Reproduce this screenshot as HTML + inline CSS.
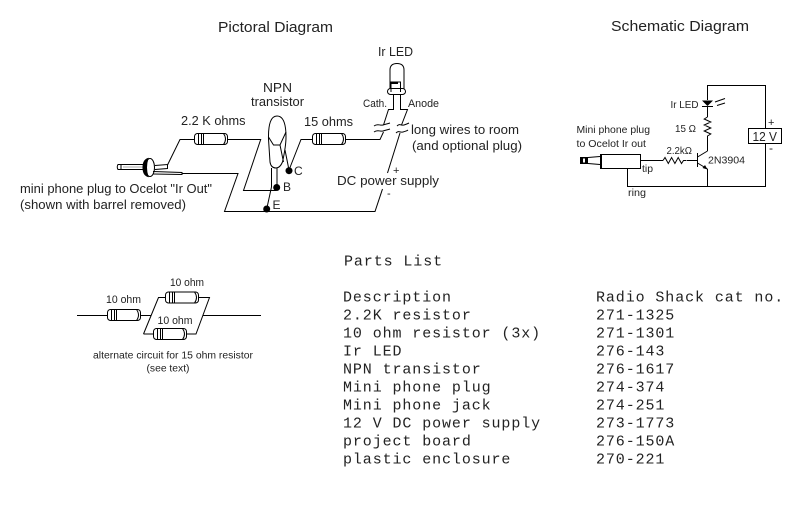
<!DOCTYPE html>
<html><head><meta charset="utf-8"><style>
html,body{margin:0;padding:0;background:#fff;width:800px;height:520px;overflow:hidden}
svg{display:block}
.s{font-family:"Liberation Sans",sans-serif;fill:#222}
.m{font-family:"Liberation Mono",monospace;font-size:15px;letter-spacing:.9px;fill:#222}
.w{fill:none;stroke:#000;stroke-width:1}
.b{fill:#000;stroke:none}
</style></head><body>
<svg width="800" height="520" viewBox="0 0 800 520" xmlns="http://www.w3.org/2000/svg">
<defs>
<g id="r">
<rect x="0.500" y="0.500" width="33" height="11" rx="3" fill="#fff" stroke="#000"/>
<path class="w" d="M29.500 .5q4 5.500 0 11M4.500 .5v11M7.500 .5v11M9.500 .5v11"/>
</g>
</defs>
<text class="s" x="218" y="32" font-size="14.500" textLength="115" lengthAdjust="spacingAndGlyphs">Pictoral Diagram</text>
<text class="s" x="611" y="31" font-size="14.500" textLength="138" lengthAdjust="spacingAndGlyphs">Schematic Diagram</text>

<!-- plug -->
<path class="w" d="M121 164.500h-3q-1.500 2.500 0 5h3M121 164.500V169.500M121 164.500H144M121 169.500H144"/>
<line x1="123" y1="167" x2="144" y2="167" stroke="#aaa"/>
<ellipse cx="150" cy="167.500" rx="4.500" ry="9" fill="#fff" stroke="#000"/>
<path d="M148 158.500Q143 160 143 167.500Q143 175 148 176.500Q145 167.500 148 158.500Z" fill="#000" stroke="#000"/>
<path class="w" d="M155 165.500L167.500 164.500V168.500L155 169.500M153 171.500L182 172.500V174.500L153 174"/>
<!-- wires -->
<path class="w" d="M167.500 165L180 139.500H194M228 139.500H260.700L243.500 190.500H276"/>
<path class="w" d="M182 173.500H238L224.500 211.500H375L382.500 189M387.500 173L400 133"/>
<use href="#r" x="194" y="133"/>
<!-- transistor -->
<path class="w" d="M268.500 139Q268 116 277 116Q286 116 286 137Q286 146 282.500 162Q280 168 276 168Q271 168 270 162Z"/>
<path class="w" d="M268.500 137L273.500 145H280L286 132M280 145L283.500 162M285 150L289 170M271.500 168V187L266.700 209M277 168V187"/>
<circle class="b" cx="276.700" cy="187.500" r="3.500"/>
<circle class="b" cx="289" cy="170.700" r="3.500"/>
<circle class="b" cx="266.700" cy="209" r="3.500"/>
<path class="w" d="M289 170L301 139.500H313M345 139.500H380L383.500 132"/>
<use href="#r" x="312" y="133"/>
<text class="s" x="263" y="92" font-size="13" textLength="29" lengthAdjust="spacingAndGlyphs">NPN</text>
<text class="s" x="251" y="106" font-size="12.500" textLength="53" lengthAdjust="spacingAndGlyphs">transistor</text>
<text class="s" x="181" y="125" font-size="12.500" textLength="64.500" lengthAdjust="spacingAndGlyphs">2.2 K ohms</text>
<text class="s" x="304" y="126" font-size="12.500" textLength="49" lengthAdjust="spacingAndGlyphs">15 ohms</text>
<text class="s" x="294" y="175" font-size="12">C</text>
<text class="s" x="283" y="191" font-size="12">B</text>
<text class="s" x="272.500" y="209" font-size="12">E</text>
<text class="s" x="20" y="193" font-size="12.500" textLength="192" lengthAdjust="spacingAndGlyphs">mini phone plug to Ocelot "Ir Out"</text>
<text class="s" x="20" y="209" font-size="12.500" textLength="166" lengthAdjust="spacingAndGlyphs">(shown with barrel removed)</text>
<!-- LED -->
<path class="w" d="M390 89V70Q390 63.500 397 63.500Q404 63.500 404 70V89"/>
<rect x="387.500" y="88.500" width="18" height="6" rx="3" fill="#fff" stroke="#000"/>
<path class="w" d="M391 92V82H400.500V92"/>
<path d="M391 82h7v2h-7z" fill="#000"/>
<path class="w" d="M393.500 95V109.500H388.500L383.500 125M400.500 95V109.500H407.500L401.500 125"/>
<path class="w" d="M374 126c4-3 6 0 9-1s4-1 7-2M374 132c4-3 6 0 9-1s4-1 7-2M397 126c3-3 4 0 7-1s3-1 5-2M396 133c3-3 4 0 7-1s4-1 5-2"/>
<text class="s" x="378" y="56" font-size="12.500" textLength="35" lengthAdjust="spacingAndGlyphs">Ir LED</text>
<text class="s" x="363" y="107" font-size="11" textLength="24" lengthAdjust="spacingAndGlyphs">Cath.</text>
<text class="s" x="408" y="107" font-size="11" textLength="31" lengthAdjust="spacingAndGlyphs">Anode</text>
<text class="s" x="411" y="134" font-size="12.500" textLength="108" lengthAdjust="spacingAndGlyphs">long wires to room</text>
<text class="s" x="412" y="150" font-size="12.500" textLength="110" lengthAdjust="spacingAndGlyphs">(and optional plug)</text>
<text class="s" x="337" y="185" font-size="12.500" textLength="102" lengthAdjust="spacingAndGlyphs">DC power supply</text>
<text class="s" x="393" y="174" font-size="11">+</text>
<text class="s" x="387" y="197" font-size="11">-</text>

<!-- schematic -->
<path class="w" d="M707.500 100V85.500H765.500V128.500M765.500 143.500V186.500H627.500V168M640 160.500H663M687 160.500H697.500M707.500 151V139M707.500 117V106M707.500 169V186.500M697.500 153V167M697.500 157L707.500 151M697.500 163L707.500 169"/>
<path class="w" d="M663 160.500l2-3 3.300 6 3.300-6 3.300 6 3.300-6 3.300 6 2-3h3M707.500 117l-3.300 2 6.600 3-6.600 3 6.600 3-6.600 3 6.600 3-3.300 2v3"/>
<path class="b" d="M702 100.500h11l-5.500 5.500zM707.500 169.500l-5-1.500 2.500-3z"/>
<path class="w" d="M702 106.500h11M715 102l10-3.500M717 105.500l8-2.500"/>
<rect x="748.500" y="128.500" width="33" height="15" fill="#fff" stroke="#000"/>
<rect x="601" y="154.500" width="39.500" height="14" fill="#fff" stroke="#000"/>
<rect x="600" y="154" width="2" height="15" fill="#000"/>
<path class="w" d="M600 156.500L588 157.500M600 164.500L588 163.500"/>
<rect x="580" y="157" width="8" height="7" fill="#000"/>
<rect x="583" y="158.500" width="2" height="4" fill="#fff"/>
<text class="s" x="670.500" y="108" font-size="10.500" textLength="28" lengthAdjust="spacingAndGlyphs">Ir LED</text>
<text class="s" x="675" y="132" font-size="10.500" textLength="21" lengthAdjust="spacingAndGlyphs">15 Ω</text>
<text class="s" x="666.500" y="154" font-size="10.500" textLength="25.500" lengthAdjust="spacingAndGlyphs">2.2kΩ</text>
<text class="s" x="708" y="163.500" font-size="10.500" textLength="37" lengthAdjust="spacingAndGlyphs">2N3904</text>
<text class="s" x="576.500" y="133" font-size="10.500" textLength="73.500" lengthAdjust="spacingAndGlyphs">Mini phone plug</text>
<text class="s" x="576.500" y="147" font-size="10.500" textLength="69.500" lengthAdjust="spacingAndGlyphs">to Ocelot Ir out</text>
<text class="s" x="642" y="172" font-size="10.500" textLength="11" lengthAdjust="spacingAndGlyphs">tip</text>
<text class="s" x="628" y="196" font-size="10.500" textLength="18" lengthAdjust="spacingAndGlyphs">ring</text>
<text class="s" x="752.500" y="141" font-size="12.500" textLength="24.500" lengthAdjust="spacingAndGlyphs">12 V</text>
<text class="s" x="768" y="126" font-size="11">+</text>
<text class="s" x="769" y="152" font-size="12">-</text>

<!-- alternate -->
<path class="w" d="M77 315.500H107M140 315.500H151M143.500 334L158.500 297.500H165M198 297.500H209.500L196 334H186.500M143.500 334H153.500M203 315.500H261"/>
<use href="#r" x="107" y="309"/>
<use href="#r" x="165" y="291.500"/>
<use href="#r" x="153" y="328"/>
<text class="s" x="106" y="303" font-size="11" textLength="35" lengthAdjust="spacingAndGlyphs">10 ohm</text>
<text class="s" x="170" y="286" font-size="11" textLength="34" lengthAdjust="spacingAndGlyphs">10 ohm</text>
<text class="s" x="157.500" y="324" font-size="11" textLength="35" lengthAdjust="spacingAndGlyphs">10 ohm</text>
<text class="s" x="93" y="358.500" font-size="10" textLength="160" lengthAdjust="spacingAndGlyphs">alternate circuit for 15 ohm resistor</text>
<text class="s" x="146.500" y="371.500" font-size="10" textLength="43" lengthAdjust="spacingAndGlyphs">(see text)</text>

<!-- parts -->
<g class="m">
<text x="344" y="265.500">Parts List</text>
<text x="343" y="301.500">Description</text>
<text x="343" y="319.500">2.2K resistor</text>
<text x="343" y="337.500">10 ohm resistor (3x)</text>
<text x="343" y="355.500">Ir LED</text>
<text x="343" y="373.500">NPN transistor</text>
<text x="343" y="391.500">Mini phone plug</text>
<text x="343" y="409.500">Mini phone jack</text>
<text x="343" y="427.500">12 V DC power supply</text>
<text x="343" y="445.500">project board</text>
<text x="343" y="463.500">plastic enclosure</text>
<text x="596" y="301.500">Radio Shack cat no.</text>
<text x="596" y="319.500">271-1325</text>
<text x="596" y="337.500">271-1301</text>
<text x="596" y="355.500">276-143</text>
<text x="596" y="373.500">276-1617</text>
<text x="596" y="391.500">274-374</text>
<text x="596" y="409.500">274-251</text>
<text x="596" y="427.500">273-1773</text>
<text x="596" y="445.500">276-150A</text>
<text x="596" y="463.500">270-221</text>
</g>
</svg>
</body></html>
